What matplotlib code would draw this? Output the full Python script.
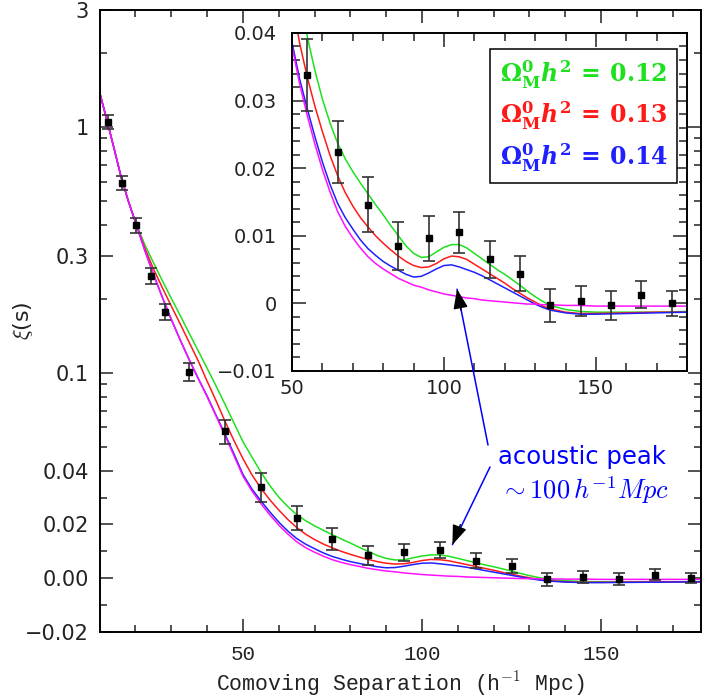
import matplotlib
matplotlib.use('Agg')
import matplotlib.pyplot as plt
from matplotlib.ticker import FixedLocator, NullFormatter

plt.rcParams['mathtext.fontset'] = 'cm'
plt.rcParams['mathtext.rm'] = 'DejaVu Serif:bold'
plt.rcParams['mathtext.it'] = 'DejaVu Serif:italic:bold'
plt.rcParams['mathtext.bf'] = 'DejaVu Serif:bold'
plt.rcParams['font.family'] = ['DejaVu Sans']

# measured points (bin centres, xi, 1-sigma)
sep = [12.2, 16.2, 20.2, 24.2, 28.2, 35, 45, 55, 65, 75, 85, 95, 105, 115,
       125, 135, 145, 155, 165, 175]
xi = [1.05, 0.595, 0.399, 0.2485, 0.177, 0.101, 0.058, 0.0338, 0.0224, 0.0146,
      0.0085, 0.0096, 0.0105, 0.0065, 0.0044, -0.0003, 0.0004, -0.0003, 0.0013, 0.0]
err = [0.07, 0.04, 0.027, 0.018, 0.0135, 0.0084, 0.0066, 0.0053, 0.0046, 0.0041,
       0.0035, 0.0033, 0.003, 0.0028, 0.0026, 0.0024, 0.0022, 0.0021, 0.002, 0.0019]

# model curves
model_x = [10, 12, 14, 16, 18, 20,
           22.5, 25, 27.5, 30, 32.5, 35, 37.5, 40, 42.5, 45, 47.5, 50,
           52.5, 55, 57.5, 60, 62.5, 65, 67.5, 70, 72.5, 75, 77.5, 80, 82.5, 85,
           87.5, 90, 92.5, 95, 97.5, 100, 102.5, 105,
           107.5, 110, 112.5, 115, 117.5, 120, 122.5, 125, 127.5, 130, 132.5, 135,
           140, 145, 150, 160, 170, 180]
head = [1.38, 1.07, 0.82, 0.625, 0.50, 0.41]
xi_012 = head + [0.335, 0.281, 0.237, 0.201, 0.171, 0.145, 0.123, 0.1045, 0.0885, 0.0745, 0.0625, 0.0525,
                 0.0455, 0.0395, 0.0345, 0.0302, 0.0267, 0.0237, 0.0214, 0.0195, 0.0178, 0.0162,
                 0.0146, 0.0131, 0.0115, 0.0100, 0.0085, 0.0074, 0.0068, 0.0069, 0.0076, 0.0083,
                 0.0087, 0.0087,
                 0.0082, 0.0074, 0.0066, 0.0058, 0.0050, 0.0043, 0.0035, 0.0027, 0.0018, 0.0010,
                 0.0003, -0.0003,
                 -0.0009, -0.0012, -0.0013, -0.0013, -0.0013, -0.0012]
xi_013 = head + [0.325, 0.265, 0.222, 0.187, 0.158, 0.133, 0.112, 0.0925, 0.077, 0.0635, 0.053, 0.0448,
                 0.0385, 0.0335, 0.0292, 0.0254, 0.0219, 0.0189, 0.0164, 0.0144, 0.0127, 0.0113,
                 0.0100, 0.0089, 0.0079, 0.0070, 0.0062, 0.0056, 0.0053, 0.0054, 0.0059, 0.0066,
                 0.0070, 0.0069,
                 0.0065, 0.0058, 0.0051, 0.0044, 0.0037, 0.0030, 0.0022, 0.0015, 0.0008, 0.0002,
                 -0.0004, -0.0008,
                 -0.0013, -0.0015, -0.0015, -0.0014, -0.0013, -0.0013]
xi_014 = head + [0.318, 0.252, 0.203, 0.165, 0.136, 0.113, 0.095, 0.0805, 0.0672, 0.0563, 0.0468, 0.0386,
                 0.0332, 0.0288, 0.0247, 0.0209, 0.0176, 0.0148, 0.0127, 0.0110, 0.0094, 0.0081,
                 0.0071, 0.0062, 0.0055, 0.0049, 0.0043, 0.0039, 0.0040, 0.0045, 0.0051, 0.0056,
                 0.0057, 0.0054,
                 0.0050, 0.0046, 0.0041, 0.0035, 0.0029, 0.0023, 0.0017, 0.0011, 0.0005, -0.0001,
                 -0.0006, -0.0010,
                 -0.0014, -0.0016, -0.0016, -0.0015, -0.0014, -0.0013]
xi_nobary = head + [0.318, 0.252, 0.203, 0.165, 0.136, 0.113, 0.095, 0.080, 0.0668, 0.0556, 0.046, 0.038,
                    0.0325, 0.0278, 0.0236, 0.0198, 0.0165, 0.0136, 0.0114, 0.0097, 0.0082, 0.0069,
                    0.0059, 0.0051, 0.0044, 0.0037, 0.0032, 0.0027, 0.0024, 0.0020, 0.0017, 0.0014,
                    0.0012, 0.0010,
                    0.0008, 0.0007, 0.0005, 0.0004, 0.0003, 0.0002, 0.0001, 0.0, -0.0001, -0.0001,
                    -0.0002, -0.0002,
                    -0.0003, -0.0003, -0.0004, -0.0004, -0.0004, -0.0004]

labels = [r'$\Omega^0_{\rm M} h^2 \,=\, 0.12$', r'$\Omega^0_{\rm M} h^2 \,=\, 0.13$',
          r'$\Omega^0_{\rm M} h^2 \,=\, 0.14$']
cols = ['#1ee01e', '#ff1a1a', '#2020ff', '#ff10ff']

ytick_main = [-0.02, 0, 0.02, 0.04, 0.1, 0.3, 1, 3]
ytick_main_lab = ['\u22120.02', '0.00', '0.02', '0.04', '0.1', '0.3', '1', '3']
ytick_main_minor = [-0.01, 0.01, 0.03, 0.05, 0.06, 0.07, 0.08, 0.09, 0.2,
                    0.4, 0.5, 0.6, 0.7, 0.8, 0.9, 2]
ytick_in = [-0.01, 0, 0.01, 0.02, 0.03, 0.04]
ytick_in_lab = ['\u22120.01', '0', '0.01', '0.02', '0.03', '0.04']

fig = plt.figure(figsize=(7.02, 7.0), dpi=100)
ax = fig.add_axes([0.142, 0.097, 0.856, 0.889])

curves = [xi_012, xi_013, xi_014, xi_nobary]
lines = []
for yy, c in zip(curves, cols):
    l, = ax.plot(model_x, yy, color=c, lw=1.1)
    lines.append(l)
ax.errorbar(sep, xi, yerr=err, fmt='s', color='black', ms=5, ecolor='#333333',
            elinewidth=1.2, capsize=4, capthick=1.2, zorder=5)

ax.set_yscale('symlog', linthresh=0.04, linscale=0.394)
ax.set_xlim(10, 177.8)
ax.set_ylim(-0.02, 3)
ax.yaxis.set_major_locator(FixedLocator(ytick_main))
ax.yaxis.set_minor_locator(FixedLocator(ytick_main_minor))
ax.yaxis.set_minor_formatter(NullFormatter())
ax.set_yticklabels(ytick_main_lab)
ax.xaxis.set_major_locator(FixedLocator([50, 100, 150]))
ax.xaxis.set_minor_locator(FixedLocator([20, 30, 40, 60, 70, 80, 90, 110, 120, 130, 140, 160, 170]))
ax.tick_params(which='both', direction='in', top=True, right=True, width=1.1, color='#222222')
ax.tick_params(which='major', length=9.5)
ax.tick_params(which='minor', length=5)
ax.tick_params(axis='y', labelsize=15, pad=8, labelcolor='#222222')
ax.tick_params(axis='x', labelsize=15, pad=9, labelcolor='#222222')
for t in ax.get_xticklabels():
    t.set_family('Liberation Mono')
for s in ax.spines.values():
    s.set_linewidth(1.4)
ax.set_xlabel(r'Comoving Separation (h$^{-1}$ Mpc)', fontsize=15.5, family='Liberation Mono',
              color='#222222', labelpad=4)
ax.set_ylabel(r'$\xi$(s)', fontsize=16, color='#222222')
ax.yaxis.set_label_coords(-0.108, 0.5)

# lower arrow: blue shaft, black head
tip_lo = (108.5, 0.0125)
ax.annotate('', xy=tip_lo, xycoords='data', xytext=(490, 233), textcoords='figure pixels',
            arrowprops=dict(arrowstyle='-', color='blue', lw=1.1, shrinkA=0, shrinkB=0))
ax.annotate('', xy=tip_lo, xycoords='data', xytext=(8, 20), textcoords='offset pixels',
            arrowprops=dict(arrowstyle='-|>,head_length=1.2,head_width=0.45', color='black',
                            lw=1, shrinkA=0, shrinkB=0))

# inset
axi = fig.add_axes([0.416, 0.47, 0.5627, 0.4829])
for yy, c in zip(curves, cols):
    axi.plot(model_x, yy, color=c, lw=1.1)
axi.errorbar(sep, xi, yerr=err, fmt='s', color='black', ms=5, ecolor='#333333',
             elinewidth=1.2, capsize=4, capthick=1.2, zorder=5)
axi.set_xlim(50, 180)
axi.set_ylim(-0.01, 0.04)
axi.xaxis.set_major_locator(FixedLocator([50, 100, 150]))
axi.xaxis.set_minor_locator(FixedLocator([60, 70, 80, 90, 110, 120, 130, 140, 160, 170]))
axi.yaxis.set_major_locator(FixedLocator(ytick_in))
axi.set_yticklabels(ytick_in_lab)
axi.yaxis.set_minor_locator(FixedLocator([-0.008, -0.006, -0.004, -0.002, 0.002, 0.004, 0.006,
                                          0.008, 0.012, 0.014, 0.016, 0.018, 0.022, 0.024,
                                          0.026, 0.028, 0.032, 0.034, 0.036, 0.038]))
axi.yaxis.set_minor_formatter(NullFormatter())
axi.tick_params(which='both', direction='in', top=True, right=True, width=1.1, color='#222222')
axi.tick_params(which='major', length=10)
axi.tick_params(which='minor', length=6)
axi.tick_params(axis='y', labelsize=14, pad=11, labelcolor='#222222')
axi.tick_params(axis='x', labelsize=14, pad=6, labelcolor='#222222')
for s in axi.spines.values():
    s.set_linewidth(1.4)

leg = axi.legend(lines[:3], labels, loc='upper right', bbox_to_anchor=(0.975, 0.953),
                 borderaxespad=0, handlelength=0, handletextpad=0, labelcolor='linecolor',
                 fontsize=17, fancybox=False, edgecolor='black', framealpha=1,
                 borderpad=0.4, labelspacing=0.4)
leg.get_frame().set_linewidth(1.1)
for t in leg.get_texts():
    t.set_math_fontfamily('custom')

tip_hi = (104.3, 0.0021)
axi.annotate('', xy=tip_hi, xycoords='data', xytext=(488, 255), textcoords='figure pixels',
             arrowprops=dict(arrowstyle='-', color='blue', lw=1.1, shrinkA=0, shrinkB=0),
             annotation_clip=False)
axi.annotate('', xy=tip_hi, xycoords='data', xytext=(4, -21), textcoords='offset pixels',
             arrowprops=dict(arrowstyle='-|>,head_length=1.2,head_width=0.45', color='black',
                             lw=1, shrinkA=0, shrinkB=0), annotation_clip=False)

fig.text(582 / 702, 1 - 457 / 700, 'acoustic peak', color='blue', fontsize=17.5,
         ha='center', va='center')
fig.text(585 / 702, 1 - 490 / 700, r'$\sim 100\,h^{-1} Mpc$', color='blue', fontsize=19,
         ha='center', va='center')

fig.savefig('out.png', dpi=100, facecolor='white')
